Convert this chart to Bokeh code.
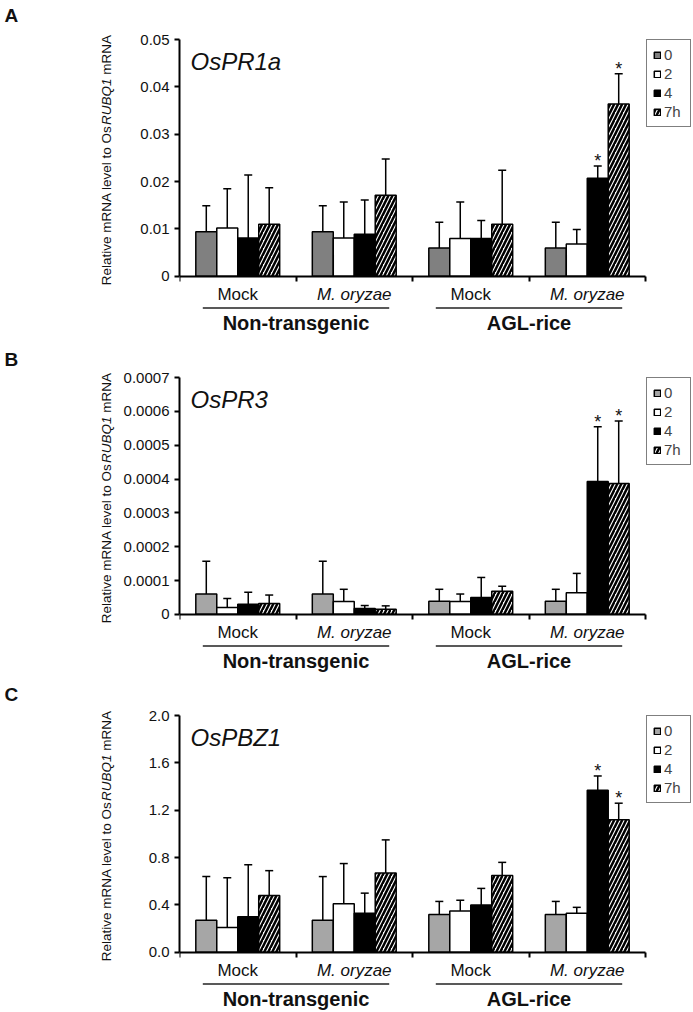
import numpy as np
from bokeh.plotting import figure
from bokeh.models import (Range1d, FixedTicker, Legend, LegendItem,
                          Whisker, TeeHead, ColumnDataSource)
from bokeh.layouts import column, row
from bokeh.embed import file_html
from bokeh.resources import INLINE
from bokeh.core.properties import value

# ---------------- data ----------------
groups = ["Mock", "M. oryzae", "Mock", "M. oryzae"]
group_italic = [False, True, False, True]
lines_lbl = ["Non-transgenic", "AGL-rice"]
series = ["0", "2", "4", "7h"]

# Panel A: OsPR1a (mean, SD) per series over the 4 groups
pr1a_0h = [0.0094, 0.0094, 0.0060, 0.0060]
pr1a_2h = [0.0102, 0.0081, 0.0080, 0.0068]
pr1a_4h = [0.0081, 0.0089, 0.0080, 0.0207]
pr1a_7h = [0.0110, 0.0171, 0.0110, 0.0364]
pr1a_0h_sd = [0.0055, 0.0055, 0.0054, 0.0054]
pr1a_2h_sd = [0.0083, 0.0076, 0.0077, 0.0031]
pr1a_4h_sd = [0.0133, 0.0072, 0.0038, 0.0026]
pr1a_7h_sd = [0.0077, 0.0077, 0.0114, 0.0064]
pr1a_stars = [(2, 3), (3, 3)]
pr1a_ticks = [0, 0.01, 0.02, 0.03, 0.04, 0.05]
pr1a_tick_labels = ["0", "0.01", "0.02", "0.03", "0.04", "0.05"]

# Panel B: OsPR3
pr3_0h = [0.000060, 0.000060, 0.000039, 0.000039]
pr3_2h = [0.000020, 0.000038, 0.000038, 0.000064]
pr3_4h = [0.000030, 0.000017, 0.000050, 0.000393]
pr3_7h = [0.000032, 0.000015, 0.000068, 0.000387]
pr3_0h_sd = [0.000097, 0.000097, 0.000035, 0.000035]
pr3_2h_sd = [0.000027, 0.000036, 0.000022, 0.000057]
pr3_4h_sd = [0.000035, 0.000009, 0.000059, 0.000162]
pr3_7h_sd = [0.000025, 0.000010, 0.000015, 0.000185]
pr3_stars = [(2, 3), (3, 3)]
pr3_ticks = [0, 0.0001, 0.0002, 0.0003, 0.0004, 0.0005, 0.0006, 0.0007]
pr3_tick_labels = ["0", "0.0001", "0.0002", "0.0003", "0.0004", "0.0005",
                   "0.0006", "0.0007"]

# Panel C: OsPBZ1
pbz1_0h = [0.27, 0.27, 0.32, 0.32]
pbz1_2h = [0.21, 0.41, 0.35, 0.33]
pbz1_4h = [0.30, 0.33, 0.40, 1.37]
pbz1_7h = [0.48, 0.67, 0.65, 1.12]
pbz1_0h_sd = [0.37, 0.37, 0.11, 0.11]
pbz1_2h_sd = [0.42, 0.34, 0.09, 0.05]
pbz1_4h_sd = [0.44, 0.17, 0.14, 0.12]
pbz1_7h_sd = [0.21, 0.28, 0.11, 0.14]
pbz1_stars = [(2, 3), (3, 3)]
pbz1_ticks = [0.0, 0.4, 0.8, 1.2, 1.6, 2.0]
pbz1_tick_labels = ["0.0", "0.4", "0.8", "1.2", "1.6", "2.0"]

# ---------------- layout constants ----------------
FONT = "Liberation Sans"
TXT = "#111111"
TOTAL_W = 693
LEFT_W = 119                      # side figure holding letter + y title
AXIS_X = 179                      # page x of the y axis
MAIN_W = TOTAL_W - LEFT_W
BORDER_L = AXIS_X - LEFT_W        # room for tick labels
PX_X = 116.5                      # px per group
XW = (MAIN_W - BORDER_L) / PX_X
AXIS_PX = 236                     # px from 0 to top tick
TOP_PX = 40                       # px from figure top to top tick
BT = 1                            # estimated height of the (empty) top axis panel
OFFSETS = [-0.27, -0.09, 0.09, 0.27]
BAR_W = 0.18

# Arial / Liberation Sans advance widths (per 1000 em)
ADV = {"R": 722, "e": 556, "l": 222, "a": 556, "t": 278, "i": 222, "v": 500,
       " ": 278, "m": 833, "N": 722, "A": 667, "o": 556, "O": 778, "s": 500,
       "U": 722, "B": 667, "Q": 778, "1": 556}


def tw(txt, size):
    return sum(ADV.get(c, 556) for c in txt) * size / 1000.0


def style_top_axis(ax, visible):
    ax.fixed_location = 0
    ax.ticker = FixedTicker(ticks=[0, 1, 2, 3, 4])
    ax.major_label_overrides = {0: "", 1: "", 2: "", 3: "", 4: ""}
    ax.major_label_text_font_size = "1px"
    ax.major_label_standoff = 0
    ax.bounds = (0, 4)
    ax.axis_line_width = 2
    ax.major_tick_line_width = 2
    ax.major_tick_out = 0
    ax.major_tick_in = 5
    ax.minor_tick_line_color = None
    if not visible:
        ax.axis_line_color = None
        ax.major_tick_line_color = None


def make_side(letter, H, letter_mid):
    q = figure(width=LEFT_W, height=H, x_range=Range1d(0, LEFT_W),
               y_range=Range1d(0, H - BT), output_backend="svg",
               toolbar_location=None, x_axis_location="above",
               y_axis_location=None, min_border=0)
    style_top_axis(q.xaxis[0], False)
    q.xgrid.visible = False
    q.ygrid.visible = False
    q.outline_line_color = None
    zero_px = TOP_PX + AXIS_PX
    fs = 13.5
    pieces = [("Relative mRNA level to Os", "normal"), ("RUBQ1", "italic"),
              ("mRNA", "normal")]
    pos = H - (zero_px + 9)
    for txt, st in pieces:
        q.text(x=[106], y=[pos], text=[txt], angle=np.pi / 2,
               text_align="left", text_baseline="middle",
               text_font=value(FONT), text_font_size=f"{fs}px",
               text_font_style=st, text_color=TXT)
        pos += tw(txt, fs)
        if txt == "RUBQ1":
            pos += tw(" ", fs)
    q.text(x=[4], y=[H - letter_mid], text=[letter], text_align="left",
           text_baseline="middle", text_font=value(FONT),
           text_font_size="19px", text_font_style="bold", text_color=TXT)
    return q


def make_panel(gene, means, sds, stars, ticks, tick_labels, grey, H):
    T = ticks[-1]
    s = AXIS_PX / T
    zero_px = TOP_PX + AXIS_PX
    y_end = T + (TOP_PX - BT) / s
    y_start = -(H - zero_px) / s

    p = figure(width=MAIN_W, height=H, x_range=Range1d(0, XW),
               y_range=Range1d(y_start, y_end), output_backend="svg",
               toolbar_location=None, x_axis_location="above",
               min_border_left=BORDER_L, min_border_right=0,
               min_border_top=0, min_border_bottom=0)
    p.xgrid.visible = False
    p.ygrid.visible = False
    p.outline_line_color = None

    # y axis
    ya = p.yaxis[0]
    ya.ticker = FixedTicker(ticks=ticks)
    ya.major_label_overrides = dict(zip(ticks, tick_labels))
    ya.bounds = (0, T)
    ya.axis_line_width = 2
    ya.major_tick_line_width = 2
    ya.major_tick_out = 5
    ya.major_tick_in = 0
    ya.minor_tick_line_color = None
    ya.major_label_standoff = 5
    ya.major_label_text_font = FONT
    ya.major_label_text_font_size = "15px"
    ya.major_label_text_color = TXT

    # x axis drawn at y = 0, ticks pointing down
    style_top_axis(p.xaxis[0], True)

    colors = [grey, "white", "black", "white"]
    hatches = [None, None, None, "/"]
    centers = np.arange(4) + 0.5
    items = []
    for i in range(4):
        xs = centers + OFFSETS[i]
        tops = [m + d for m, d in zip(means[i], sds[i])]
        src = ColumnDataSource(dict(x=xs, top=means[i], up=tops))
        kw = {}
        if hatches[i]:
            kw = dict(hatch_pattern=hatches[i], hatch_scale=8,
                      hatch_weight=2.5, hatch_color="black")
        r = p.vbar(x="x", top="top", bottom=0, width=BAR_W, source=src,
                   fill_color=colors[i], line_color="black", line_width=1.5,
                   **kw)
        p.add_layout(Whisker(source=src, base="x", lower="top", upper="up",
                             line_color="black", line_width=1.5,
                             upper_head=TeeHead(size=8, line_width=1.5,
                                                line_color="black"),
                             lower_head=None))
        items.append(LegendItem(label=series[i], renderers=[r]))

    # asterisks
    sx = [centers[g] + OFFSETS[si] for si, g in stars]
    sy = [means[si][g] + sds[si][g] for si, g in stars]
    p.text(x=sx, y=sy, text=["*"] * len(sx), text_align="center",
           text_baseline="middle", y_offset=-5, text_font_size="18px",
           text_font=value(FONT), text_color=TXT)

    # legend
    leg_h = 86
    legend = Legend(items=items,
                    location=(646 - AXIS_X, H - TOP_PX - 1 - leg_h),
                    glyph_width=8, glyph_height=8, label_standoff=3,
                    padding=6, spacing=2, label_height=16, margin=0,
                    label_text_font=FONT, label_text_font_size="15px",
                    border_line_color="black", border_line_width=1,
                    background_fill_color="white", background_fill_alpha=1)
    p.add_layout(legend)

    # gene name
    p.text(x=[11 / PX_X], y=[T - 21.5 / s], text=[gene], text_align="left",
           text_baseline="middle", text_font=value(FONT),
           text_font_style="italic", text_font_size="24px", text_color=TXT)

    # group labels under the axis
    for g in range(4):
        p.text(x=[centers[g]], y=[-18.5 / s], text=[groups[g]],
               text_align="center", text_baseline="middle",
               text_font=value(FONT), text_font_size="17px",
               text_font_style="italic" if group_italic[g] else "normal",
               text_color=TXT)
    pair_c = np.array([1.0, 3.0])
    p.segment(x0=pair_c - 0.8, x1=pair_c + 0.8, y0=[-31.7 / s] * 2,
              y1=[-31.7 / s] * 2, line_color="#222222", line_width=1.5)
    p.text(x=pair_c, y=[-46.5 / s] * 2, text=lines_lbl, text_align="center",
           text_baseline="middle", text_font=value(FONT),
           text_font_size="20px", text_font_style="bold", text_color=TXT)
    return p


HA, HB, HC = 338, 338, 336
pA = make_panel("OsPR1a",
                [pr1a_0h, pr1a_2h, pr1a_4h, pr1a_7h],
                [pr1a_0h_sd, pr1a_2h_sd, pr1a_4h_sd, pr1a_7h_sd],
                pr1a_stars, pr1a_ticks, pr1a_tick_labels, "#808080", HA)
pB = make_panel("OsPR3",
                [pr3_0h, pr3_2h, pr3_4h, pr3_7h],
                [pr3_0h_sd, pr3_2h_sd, pr3_4h_sd, pr3_7h_sd],
                pr3_stars, pr3_ticks, pr3_tick_labels, "#a6a6a6", HB)
pC = make_panel("OsPBZ1",
                [pbz1_0h, pbz1_2h, pbz1_4h, pbz1_7h],
                [pbz1_0h_sd, pbz1_2h_sd, pbz1_4h_sd, pbz1_7h_sd],
                pbz1_stars, pbz1_ticks, pbz1_tick_labels, "#a6a6a6", HC)

sA = make_side("A", HA, 15.5)
sB = make_side("B", HB, 22)
sC = make_side("C", HC, 18.5)

layout = column(row(sA, pA), row(sB, pB), row(sC, pC))
open("out.html", "w").write(file_html(layout, INLINE))
